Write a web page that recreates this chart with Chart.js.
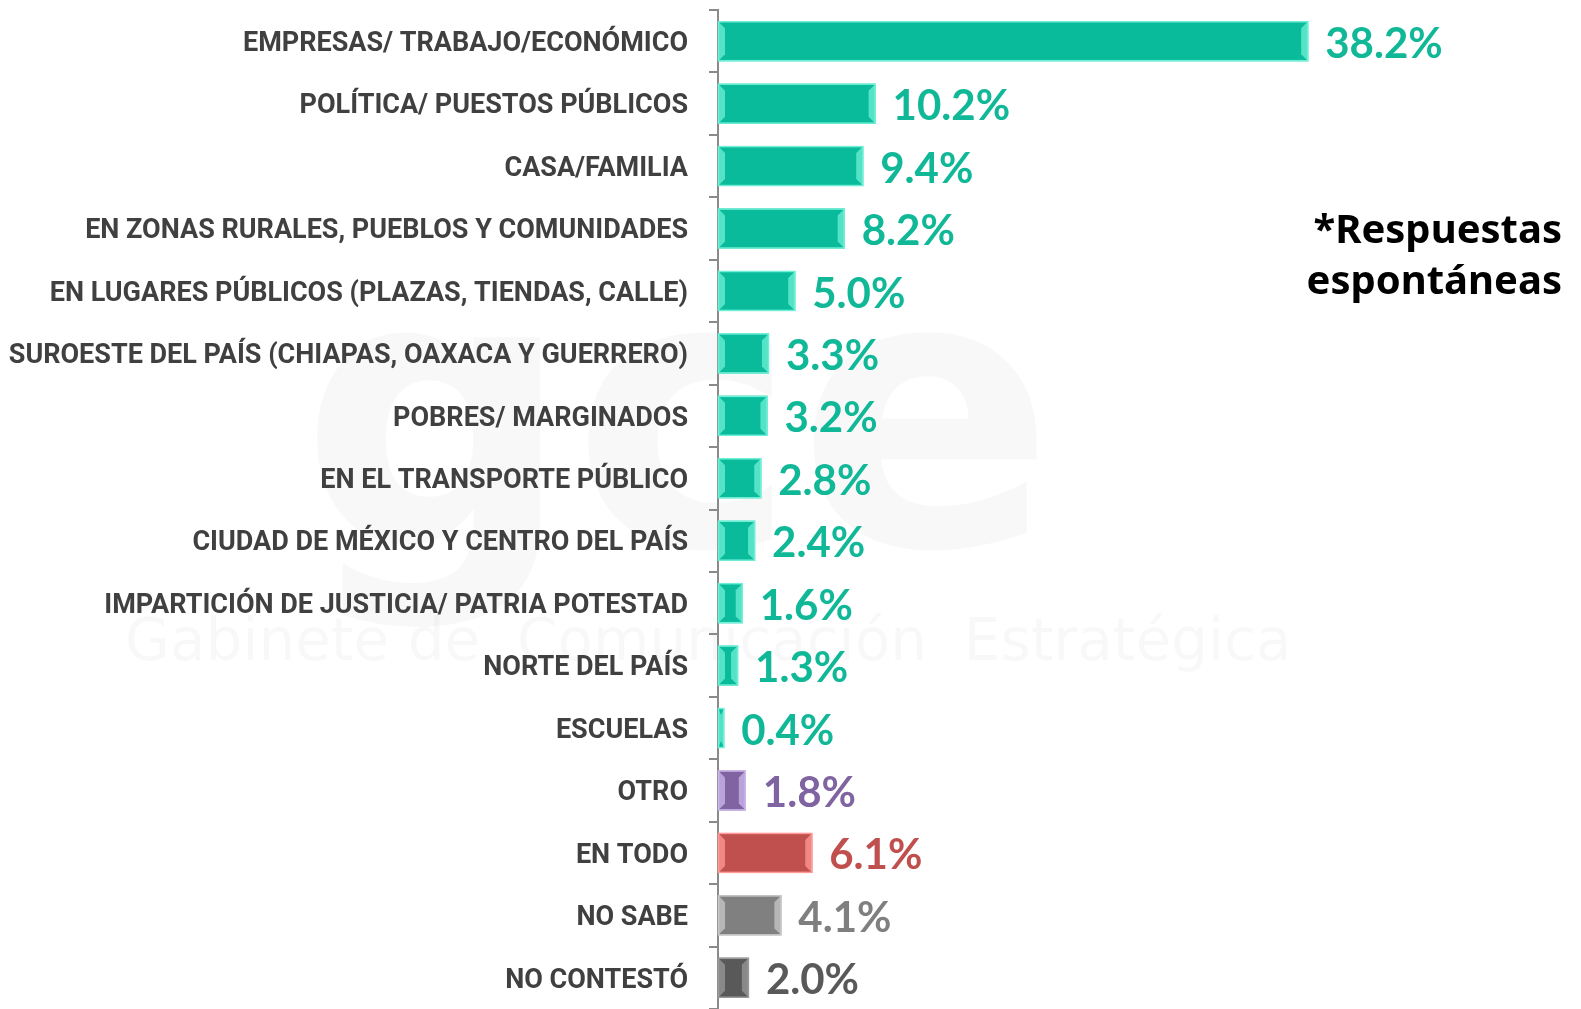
<!DOCTYPE html>
<html>
<head>
<meta charset="utf-8">
<script src="https://cdn.jsdelivr.net/npm/chart.js@4"></script>
<style>
	html, body { margin: 0; padding: 0; background: #fff; }
	#wrap { width: 1581px; height: 1009px; position: relative; }
</style>
</head>
<body>
<div id="wrap"><canvas id="myChart" width="1581" height="1009"></canvas></div>
<script>
var categories = [
	'EMPRESAS/ TRABAJO/ECONÓMICO',
	'POLÍTICA/ PUESTOS PÚBLICOS',
	'CASA/FAMILIA',
	'EN ZONAS RURALES, PUEBLOS Y COMUNIDADES',
	'EN LUGARES PÚBLICOS (PLAZAS, TIENDAS, CALLE)',
	'SUROESTE DEL PAÍS (CHIAPAS, OAXACA Y GUERRERO)',
	'POBRES/ MARGINADOS',
	'EN EL TRANSPORTE PÚBLICO',
	'CIUDAD DE MÉXICO Y CENTRO DEL PAÍS',
	'IMPARTICIÓN DE JUSTICIA/ PATRIA POTESTAD',
	'NORTE DEL PAÍS',
	'ESCUELAS',
	'OTRO',
	'EN TODO',
	'NO SABE',
	'NO CONTESTÓ'
];
var values = [38.2, 10.2, 9.4, 8.2, 5.0, 3.3, 3.2, 2.8, 2.4, 1.6, 1.3, 0.4, 1.8, 6.1, 4.1, 2.0];
var barColors = ['#0abb9b', '#0abb9b', '#0abb9b', '#0abb9b', '#0abb9b', '#0abb9b', '#0abb9b', '#0abb9b',
	'#0abb9b', '#0abb9b', '#0abb9b', '#0abb9b', '#8064a2', '#c0504d', '#808080', '#595959'];
var lightColors = ['#6ff0d6', '#6ff0d6', '#6ff0d6', '#6ff0d6', '#6ff0d6', '#6ff0d6', '#6ff0d6', '#6ff0d6',
	'#6ff0d6', '#6ff0d6', '#6ff0d6', '#6ff0d6', '#cdb8ec', '#ff9a98', '#c8c8c8', '#9a9a9a'];
var labelColors = ['#10b898', '#10b898', '#10b898', '#10b898', '#10b898', '#10b898', '#10b898', '#10b898',
	'#10b898', '#10b898', '#10b898', '#10b898', '#8064a2', '#c0504d', '#7f7f7f', '#595959'];

// marca de agua tenue
var watermark = {
	id: 'watermark',
	beforeDraw: function(chart) {
		var ctx = chart.ctx;
		ctx.save();
		ctx.fillStyle = 'rgba(0,0,0,0.028)';
		ctx.font = 'bold 380px "DejaVu Sans"';
		ctx.textBaseline = 'alphabetic';
		ctx.fillText('gce', 300, 545);
		ctx.font = '58px "DejaVu Sans"';
		ctx.fillText('Gabinete de  Comunicación  Estratégica', 125, 660);
		ctx.restore();
	}
};

// biseles en los extremos y etiquetas de valor
var barDecor = {
	id: 'barDecor',
	afterDatasetsDraw: function(chart) {
		var ctx = chart.ctx;
		var meta = chart.getDatasetMeta(0);
		ctx.save();
		meta.data.forEach(function(bar, i) {
			var left = bar.base, right = bar.x;
			var top = bar.y - bar.height / 2, bottom = bar.y + bar.height / 2;
			var w = Math.min(7, (right - left) / 2);
			ctx.fillStyle = lightColors[i];
			ctx.globalAlpha = 0.75;
			// bisel izquierdo
			ctx.beginPath();
			ctx.moveTo(left, top);
			ctx.lineTo(left + w, top + 7);
			ctx.lineTo(left + w, bottom - 7);
			ctx.lineTo(left, bottom);
			ctx.closePath();
			ctx.fill();
			// bisel derecho
			ctx.beginPath();
			ctx.moveTo(right, top);
			ctx.lineTo(right - w, top + 7);
			ctx.lineTo(right - w, bottom - 7);
			ctx.lineTo(right, bottom);
			ctx.closePath();
			ctx.fill();
			ctx.globalAlpha = 1;
			ctx.strokeStyle = lightColors[i];
			ctx.lineWidth = 1.5;
			ctx.strokeRect(left + 0.5, top + 0.5, right - left - 1, bottom - top - 1);

			ctx.fillStyle = labelColors[i];
			ctx.font = 'bold 42px Lato';
			ctx.textBaseline = 'middle';
			ctx.textAlign = 'left';
			ctx.fillText(values[i].toFixed(1) + '%', right + 17, bar.y + 3);
		});
		ctx.restore();
	}
};

var ctx = document.getElementById('myChart');
var myChart = new Chart(ctx, {
	type: 'bar',
	data: {
		labels: categories,
		datasets: [{
			data: values,
			backgroundColor: barColors,
			borderWidth: 0,
			barPercentage: 0.64,
			categoryPercentage: 1
		}]
	},
	options: {
		indexAxis: 'y',
		responsive: false,
		animation: false,
		layout: { padding: { top: 10, right: 245, bottom: 0, left: 0 } },
		plugins: {
			legend: { display: false },
			tooltip: { enabled: false }
		},
		scales: {
			x: {
				display: false,
				min: 0,
				max: 40
			},
			y: {
				afterFit: function(scale) {
					scale.width = 718;
					scale.paddingTop = 0;
					scale.paddingBottom = 0;
				},
				grid: {
					offset: true,
					drawOnChartArea: false,
					drawTicks: true,
					tickLength: 9,
					color: '#8a8a8a',
					lineWidth: 2
				},
				border: { color: '#8a8a8a', width: 2 },
				ticks: {
					color: '#404040',
					padding: 21,
					labelOffset: 3,
					maxRotation: 0,
					autoSkip: false,
					font: { family: 'Roboto', weight: 'bold', size: 27 }
				}
			}
		}
	},
	plugins: [watermark, barDecor, {
		id: 'note',
		afterDraw: function(chart) {
			var c = chart.ctx;
			c.save();
			c.fillStyle = '#000';
			c.font = 'bold 40px "Noto Sans"';
			c.textAlign = 'right';
			c.textBaseline = 'middle';
			c.fillText('*Respuestas', 1562, 232);
			c.fillText('espontáneas', 1562, 283);
			c.restore();
		}
	}]
});
</script>
</body>
</html>
